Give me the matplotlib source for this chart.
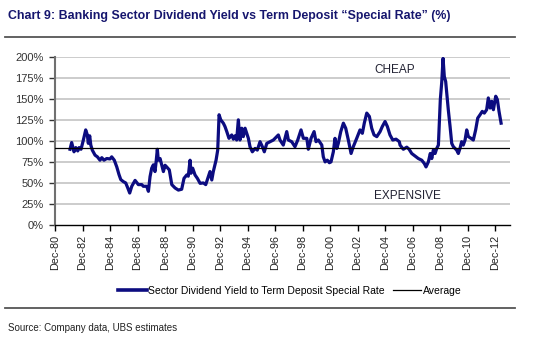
import matplotlib
matplotlib.use("Agg")
import matplotlib.pyplot as plt
from matplotlib.lines import Line2D
from matplotlib import font_manager

# ---- data (decimal years, ratio in %) ----
dates = [1982.01, 1982.13, 1982.30, 1982.43, 1982.57, 1982.67, 1982.81, 1982.98, 1983.15, 1983.27,
         1983.34, 1983.44, 1983.52, 1983.63, 1983.83, 1984.00, 1984.19, 1984.32, 1984.48, 1984.68,
         1984.92, 1985.04, 1985.23, 1985.41, 1985.57, 1985.70, 1985.89, 1986.06, 1986.21, 1986.35,
         1986.50, 1986.74, 1986.98, 1987.23, 1987.34, 1987.59, 1987.71, 1987.83, 1987.95, 1988.07,
         1988.19, 1988.27, 1988.36, 1988.43, 1988.56, 1988.68, 1988.80, 1988.92, 1989.04, 1989.23,
         1989.41, 1989.65, 1989.89, 1990.13, 1990.30, 1990.50, 1990.61, 1990.74, 1990.81, 1990.93,
         1991.10, 1991.27, 1991.47, 1991.71, 1991.88, 1992.03, 1992.19, 1992.32, 1992.43, 1992.63,
         1992.75, 1992.85, 1992.97, 1993.16, 1993.28, 1993.41, 1993.57, 1993.77, 1993.89, 1994.01,
         1994.13, 1994.25, 1994.37, 1994.50, 1994.61, 1994.74, 1994.86, 1994.98, 1995.10, 1995.27,
         1995.47, 1995.63, 1995.83, 1996.00, 1996.14, 1996.32, 1996.56, 1996.80, 1997.04, 1997.16,
         1997.28, 1997.52, 1997.77, 1997.89, 1998.13, 1998.37, 1998.57, 1998.81, 1998.98, 1999.23,
         1999.34, 1999.54, 1999.76, 1999.90, 2000.07, 2000.32, 2000.43, 2000.56, 2000.72, 2000.87,
         2000.99, 2001.16, 2001.28, 2001.41, 2001.52, 2001.70, 2001.89, 2002.06, 2002.25, 2002.45,
         2002.61, 2002.86, 2003.10, 2003.27, 2003.41, 2003.59, 2003.78, 2003.95, 2004.12, 2004.32,
         2004.56, 2004.72, 2004.92, 2005.09, 2005.28, 2005.48, 2005.72, 2005.96, 2006.01, 2006.25,
         2006.50, 2006.67, 2006.86, 2007.10, 2007.34, 2007.59, 2007.78, 2007.90, 2008.07, 2008.21,
         2008.32, 2008.43, 2008.56, 2008.68, 2008.80, 2008.87, 2008.94, 2009.04, 2009.14, 2009.23,
         2009.33, 2009.43, 2009.52, 2009.65, 2009.77, 2009.89, 2010.01, 2010.13, 2010.25, 2010.37,
         2010.49, 2010.61, 2010.74, 2010.86, 2010.98, 2011.17, 2011.34, 2011.51, 2011.66, 2011.83,
         2011.99, 2012.14, 2012.31, 2012.43, 2012.56, 2012.68, 2012.80, 2012.97, 2013.09, 2013.21,
         2013.36]
ratio = [90, 98, 87, 92, 88, 92, 90, 101, 113, 107,
         97, 106, 95, 89, 83, 81, 77, 80, 77, 79,
         78.5, 81, 77, 69, 60, 54, 51.5, 50, 44, 38,
         46, 53, 48, 48, 46, 46, 40, 57.5, 67.5, 71.5,
         63.5, 75, 90, 77, 79, 71, 63.5, 71, 69, 65.5,
         48, 44, 41.5, 42.5, 55.5, 59.5, 58, 77, 61.5, 67.5,
         59.5, 55.5, 49.5, 50, 48, 55.5, 63.5, 53.5, 63.5, 77,
         89, 131, 125, 121, 117, 111, 103, 107, 102, 106,
         101, 125, 101, 115, 105, 115, 109, 103, 93, 87,
         91, 89, 99, 93, 87, 97, 99, 101, 105, 107,
         101, 95, 111, 101, 99, 93, 101, 113, 103, 103,
         90, 103, 111, 99, 101, 95, 81, 75, 77, 74,
         75, 87, 103, 91, 97, 111, 121, 115, 101, 85,
         93, 103, 113, 109, 121, 133, 129, 115, 107, 105,
         111, 117, 123, 117, 107, 101, 102, 99, 95, 90,
         92.5, 90, 85, 82, 79, 77, 73, 69, 75, 85,
         79, 89, 85, 91, 95, 121, 149, 169, 198, 176.5,
         170.5, 153, 137, 117, 97, 93, 91, 89, 85, 91,
         99, 95, 101, 113, 105, 103, 101, 113, 127, 131,
         135, 133, 137, 151, 139, 147, 137, 153, 149, 135,
         121]
average = 91.3
tick_labels = ["Dec-80", "Dec-82", "Dec-84", "Dec-86", "Dec-88", "Dec-90", "Dec-92", "Dec-94",
               "Dec-96", "Dec-98", "Dec-00", "Dec-02", "Dec-04", "Dec-06", "Dec-08", "Dec-10", "Dec-12"]
y_ticks = [0, 25, 50, 75, 100, 125, 150, 175, 200]

title = "Chart 9: Banking Sector Dividend Yield vs Term Deposit \u201cSpecial Rate\u201d (%)"
series_name = "Sector Dividend Yield to Term Deposit Special Rate"
avg_name = "Average"
source = "Source: Company data, UBS estimates"

names = {f.name for f in font_manager.fontManager.ttflist}
base = "Liberation Sans" if "Liberation Sans" in names else "DejaVu Sans"
narrow = "Liberation Sans Narrow" if "Liberation Sans Narrow" in names else base
plt.rcParams["font.family"] = [base, "DejaVu Sans"]

NAVY = "#0c0c80"
W, H = 540, 343
fig = plt.figure(figsize=(W / 100, H / 100), dpi=100)

ax = fig.add_axes([55 / W, 1 - 225 / H, (510 - 55) / W, (225 - 56.7) / H])

tick_pos = [1980.917 + 2 * i for i in range(len(tick_labels))]
ax.set_xlim(1980.917, 1980.917 + 455 / 13.75)
ax.set_ylim(0, 200)

for yv in y_ticks[1:]:
    ax.axhline(yv, color="#c8c8c8", lw=1.3, zorder=1)

ax.plot(dates, ratio, color=NAVY, lw=2.3, zorder=3, solid_joinstyle="round")
ax.axhline(average, color="black", lw=0.9, zorder=4)

ax.set_xticks(tick_pos)
ax.set_xticklabels(tick_labels, rotation=90, fontsize=7.8, color="#222222")
ax.set_yticks(y_ticks)
ax.set_yticklabels([f"{v}%" for v in y_ticks], fontsize=8, color="#333333")
ax.tick_params(axis="x", direction="out", length=4, width=1, pad=3)
ax.tick_params(axis="y", direction="out", length=4, width=1, color="#333333", pad=4)

for s in ["top", "right"]:
    ax.spines[s].set_visible(False)
ax.spines["left"].set_color("#707070")
ax.spines["left"].set_linewidth(1.5)
ax.spines["bottom"].set_color("black")
ax.spines["bottom"].set_linewidth(1.0)

ax.text(2005.65, 184.5, "CHEAP", ha="center", va="center", fontsize=8.5, color="#222233")
ax.text(2006.52, 35, "EXPENSIVE", ha="center", va="center", fontsize=8.5, color="#222233")

fig.text(8 / W, 1 - 16 / H, title, ha="left", va="center", fontsize=8.9, fontweight="bold",
         color="#16166e", family=[narrow, base, "DejaVu Sans"])
fig.add_artist(Line2D([5 / W, 515 / W], [1 - 37 / H] * 2, color="#555555", lw=1.3))
fig.add_artist(Line2D([5 / W, 515 / W], [1 - 307.5 / H] * 2, color="#555555", lw=1.3))

handles = [Line2D([], [], color=NAVY, lw=2.6), Line2D([], [], color="black", lw=0.9)]
fig.legend(handles, [series_name, avg_name], loc="center", bbox_to_anchor=(290 / W, 1 - 291 / H),
           ncol=2, frameon=False, fontsize=7.5, handlelength=2.7, handletextpad=0.15,
           columnspacing=0.8)

fig.text(8 / W, 1 - 328 / H, source, ha="left", va="center", fontsize=7, color="#222222")

fig.savefig("out.png", dpi=100)
